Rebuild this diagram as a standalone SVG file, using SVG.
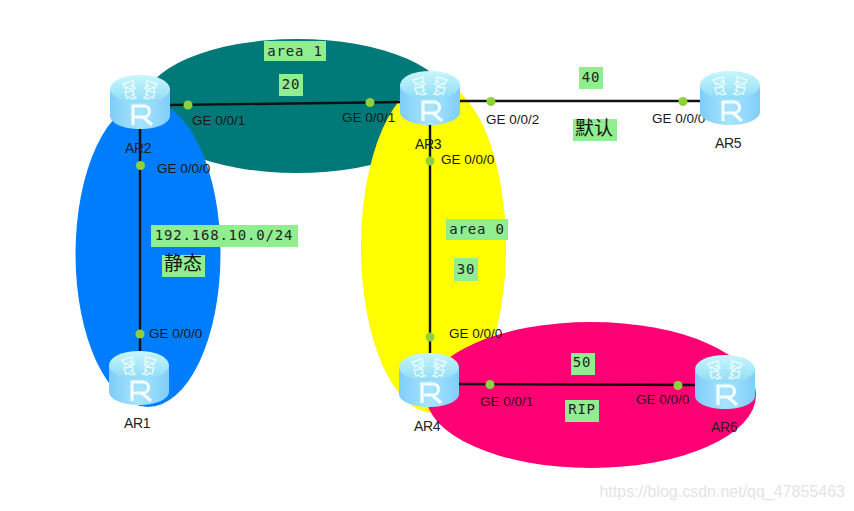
<svg xmlns="http://www.w3.org/2000/svg" width="854" height="511" viewBox="0 0 854 511">
<style>
.t{font-family:"Liberation Sans",Arial,sans-serif;font-size:13.500px;fill:#1a1a1a}
.n{font-family:"Liberation Sans",Arial,sans-serif;font-size:14px;fill:#222;letter-spacing:-.3px}
.m{font-family:"DejaVu Sans Mono","Liberation Mono",monospace;font-size:14px;letter-spacing:.8px;fill:#222;text-anchor:middle}
.c{font-family:"Noto Sans CJK SC",sans-serif;font-size:19px;fill:#111;text-anchor:middle}
.b{fill:#90ee90}
.d{fill:#8ed13c}
.l{stroke:#111;stroke-width:2.400;fill:none}
</style>
<defs>
<linearGradient id="g" x1="0" x2="1" y1="0" y2="0"><stop offset="0" stop-color="#7fcdf7"/><stop offset=".5" stop-color="#a8e4ff"/><stop offset="1" stop-color="#80cefa"/></linearGradient>
<linearGradient id="h" x1="0" x2="0" y1="0" y2="1"><stop offset="0" stop-color="#c8f6fd"/><stop offset="1" stop-color="#8fdcf5"/></linearGradient>
<g id="r">
<path d="M0 14V41C0 48 13 54 30 54S60 48 60 41V14Z" fill="url(#g)"/>
<ellipse cx="30" cy="14" rx="30" ry="14" fill="url(#h)"/>
<g fill="none" stroke="#eefdff" stroke-width="1.500" opacity=".9">
<path d="M13 9l10-3 1 4-3 1 4 2-3 2-5-3-1 2zM47 9l-10-3-1 4 3 1-4 2 3 2 5-3 1 2z"/>
<path d="M17 23l-2-6 8-1 1 3-2 1 4 3-4 1-2-2zM43 23l2-6-8-1-1 3 2 1-4 3 4 1 2-2z"/>
</g>
<path d="M23 50V31h11a5.500 5.500 0 0 1 0 11H23M33 42l9 8" fill="none" stroke="#f4fdff" stroke-width="3.200"/>
</g>
</defs>
<rect width="854" height="511" fill="#fff"/>
<ellipse id="area-teal" cx="297" cy="106" rx="155" ry="67" fill="#007a78"/>
<ellipse id="area-blue" cx="148" cy="254" rx="72.500" ry="153" fill="#007dfc"/>
<ellipse id="area-yellow" cx="433.500" cy="247" rx="72.500" ry="166" fill="#ffff00"/>
<ellipse id="area-pink" cx="591" cy="395" rx="165" ry="73" fill="#ff0074"/>
<g id="connectors">
<path class="l" d="M140 120V360"/>
<path class="l" d="M170 105L405 102"/>
<path class="l" d="M460 101H705"/>
<path class="l" d="M430 120V360"/>
<path class="l" d="M455 384L700 385"/>
<circle class="d" cx="140.500" cy="165.500" r="4.500"/>
<circle class="d" cx="140" cy="334" r="4.500"/>
<circle class="d" cx="188" cy="105" r="4.500"/>
<circle class="d" cx="370" cy="102.500" r="4.500"/>
<circle class="d" cx="491" cy="101.500" r="4.500"/>
<circle class="d" cx="683" cy="101.500" r="4.500"/>
<circle class="d" cx="430" cy="161" r="4.500"/>
<circle class="d" cx="430" cy="337" r="4.500"/>
<circle class="d" cx="490" cy="384.500" r="4.500"/>
<circle class="d" cx="678" cy="385.500" r="4.500"/>
<text class="t" x="157" y="173">GE 0/0/0</text>
<text class="t" x="149" y="338">GE 0/0/0</text>
<text class="t" x="192" y="125">GE 0/0/1</text>
<text class="t" x="342" y="122">GE 0/0/1</text>
<text class="t" x="486" y="124">GE 0/0/2</text>
<text class="t" x="652" y="123">GE 0/0/0</text>
<text class="t" x="441" y="164">GE 0/0/0</text>
<text class="t" x="449" y="338">GE 0/0/0</text>
<text class="t" x="480" y="406">GE 0/0/1</text>
<text class="t" x="636" y="404">GE 0/0/0</text>
</g>
<g id="AR2"><use href="#r" x="110" y="75"/><text class="n" x="125" y="153">AR2</text></g>
<g id="AR3"><use href="#r" x="400" y="71"/><text class="n" x="415" y="149">AR3</text></g>
<g id="AR5"><use href="#r" x="700" y="71"/><text class="n" x="715" y="148">AR5</text></g>
<g id="AR1"><use href="#r" x="109" y="351"/><text class="n" x="124" y="428">AR1</text></g>
<g id="AR4"><use href="#r" x="399" y="353"/><text class="n" x="414" y="431">AR4</text></g>
<g id="AR6"><use href="#r" x="695" y="355"/><text class="n" x="711" y="432">AR6</text></g>
<g id="labels">
<rect class="b" x="264" y="41" width="62" height="20"/><text class="m" x="295" y="56">area 1</text>
<rect class="b" x="279" y="74" width="24" height="22"/><text class="m" x="291" y="89">20</text>
<rect class="b" x="579" y="67" width="24" height="22"/><text class="m" x="591" y="82">40</text>
<rect class="b" x="573" y="119" width="44" height="22"/><text class="c" x="594" y="135">默认</text>
<rect class="b" x="151" y="225" width="147" height="22"/><text class="m" x="224" y="240">192.168.10.0/24</text>
<rect class="b" x="162" y="255" width="43" height="22"/><text class="c" x="183" y="270">静态</text>
<rect class="b" x="446" y="219" width="62" height="21"/><text class="m" x="477" y="234">area 0</text>
<rect class="b" x="454" y="258" width="24" height="23"/><text class="m" x="466" y="274">30</text>
<rect class="b" x="571" y="353" width="24" height="22"/><text class="m" x="582" y="367">50</text>
<rect class="b" x="565" y="400" width="34" height="22"/><text class="m" x="582" y="414">RIP</text>
</g>
<text x="845" y="497" text-anchor="end" font-family="Liberation Sans,sans-serif" font-size="16px" fill="#e4e4e4">https://blog.csdn.net/qq_47855463</text>
</svg>
